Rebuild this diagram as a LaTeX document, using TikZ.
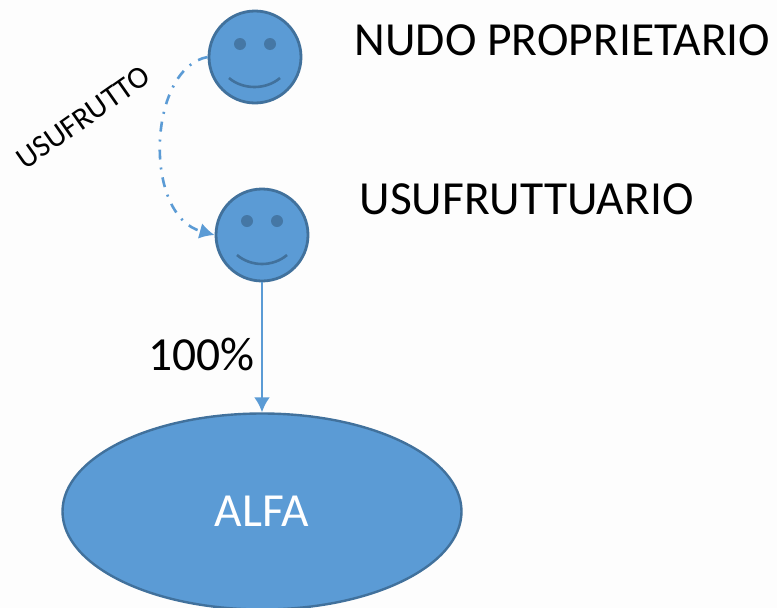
\documentclass[tikz,border=0pt]{standalone}
\usepackage{fontspec}
\setmainfont{Carlito}
\usetikzlibrary{shapes.geometric,arrows.meta}
\definecolor{faceblue}{HTML}{5B9BD5}
\definecolor{edgeblue}{HTML}{41719C}
\definecolor{paper}{HTML}{FDFDFD}
\tikzset{
	face/.style={circle,draw=edgeblue,fill=faceblue,line width=2.8pt,minimum size=92pt,inner sep=0pt},
	eye/.style={fill=edgeblue!85!faceblue,draw=none},
	mouth/.style={draw=edgeblue,line width=2.6pt},
	caption/.style={font=\fontsize{47.5}{48}\selectfont,inner sep=0pt,anchor=center},
	link/.style={draw=faceblue,line width=2.6pt}
}
\begin{document}
\begin{tikzpicture}[x=1pt,y=-1pt]
	%background
	\fill[paper] (0,0) rectangle (777,608);
	\useasboundingbox (0,0) rectangle (777,608);
	\clip (0,0) rectangle (777,608);

	%faces
	\node[face] (owner) at (255,57) {};
	\node[face] (holder) at (262,235) {};
	\fill[eye] (240,44) circle (6); %owner eyes
	\fill[eye] (270,44) circle (6);
	\draw[mouth] (229,78) .. controls (243,90) and (266,90) .. (280,78); %owner mouth
	\fill[eye] (247,221) circle (6); %holder eyes
	\fill[eye] (277,221) circle (6);
	\draw[mouth] (237,255) .. controls (251,267) and (273,267) .. (287,255); %holder mouth

	%company
	\node[ellipse,draw=edgeblue,fill=faceblue,line width=2.4pt,minimum width=399pt,minimum height=196pt,inner sep=0pt,text=white,font=\fontsize{47.5}{48}\selectfont] (alfa) at (262,511.5) {ALFA};

	%labels
	\node[caption] (ownerlabel) at (562.5,40) {NUDO PROPRIETARIO};
	\node[caption] (holderlabel) at (526.5,199) {USUFRUTTUARIO};
	\node[caption] (share) at (201.5,354) {100\%};
	\node[rotate=35,inner sep=0pt,font=\fontsize{31}{31}\selectfont] (usufruct) at (83,117.5) {USUFRUTTO};

	%arrows
	\draw[link,-{Latex[length=15pt,width=16pt]}] (holder) -- (alfa);
	\draw[link,dash pattern=on 10pt off 8pt on 2pt off 8pt,-{Latex[length=15pt,width=16pt]}] (owner.west) .. controls (148,68) and (142,215) .. (holder.west);
\end{tikzpicture}
\end{document}
